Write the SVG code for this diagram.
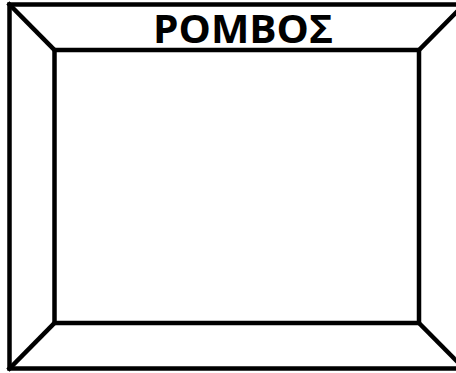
<svg xmlns="http://www.w3.org/2000/svg" width="456" height="373" viewBox="0 0 456 373">
<style>
.ln{fill:none;stroke:#000;stroke-width:4.5;stroke-linejoin:miter;stroke-linecap:square}
.t{font-family:"Open Sans","Noto Sans","Liberation Sans",sans-serif;font-weight:bold;font-size:40px;fill:#000}
</style>
<rect width="456" height="373" fill="#fff"/>
<g id="frame">
<rect class="ln" x="9.5" y="4.5" width="455" height="364"/>
<rect class="ln" x="54.5" y="50" width="364.5" height="273"/>
</g>
<g id="connectors">
<line class="ln" x1="9.5" y1="4.5" x2="54.5" y2="50"/>
<line class="ln" x1="419" y1="50" x2="464" y2="4.5"/>
<line class="ln" x1="9.5" y1="368.5" x2="54.5" y2="323"/>
<line class="ln" x1="419" y1="323" x2="464" y2="368.5"/>
</g>
<g id="title">
<text class="t" x="153" y="43" textLength="180" lengthAdjust="spacingAndGlyphs">ΡΟΜΒΟΣ</text>
</g>
</svg>
